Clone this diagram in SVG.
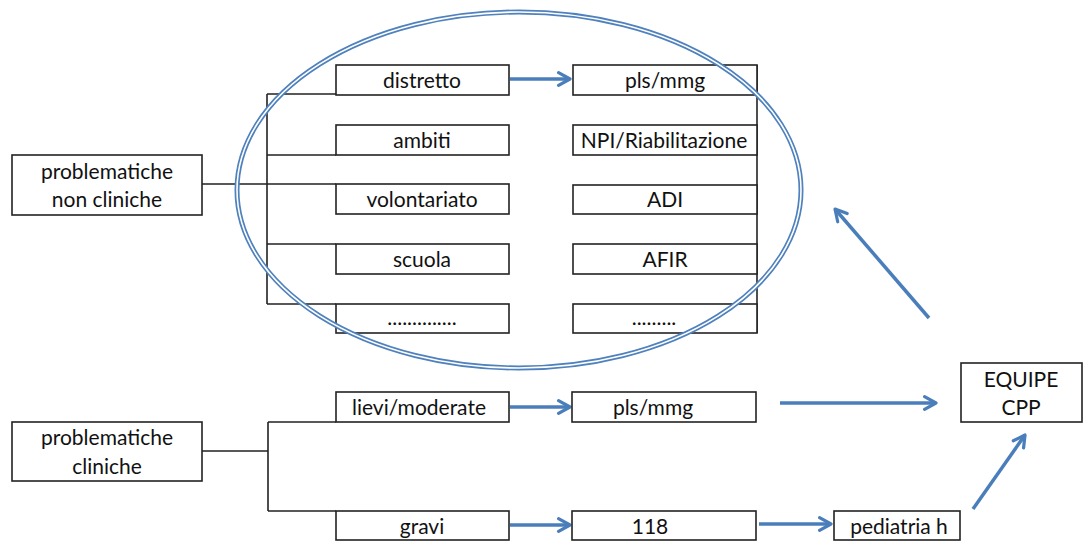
<svg xmlns="http://www.w3.org/2000/svg" width="1084" height="541" viewBox="0 0 1084 541">
<defs>
<style>
.box{fill:#fff;stroke:#222;stroke-width:1.6}
.t{font-family:Lato,"Open Sans","Liberation Sans",sans-serif;font-size:21px;fill:#111;text-anchor:middle}
.ln{stroke:#222;stroke-width:1.6;fill:none}
.ar{stroke:#4a7ebb;stroke-width:3.5;fill:none;marker-end:url(#ah)}
</style>
<marker id="ah" viewBox="0 0 14 14" refX="12" refY="7" markerWidth="16" markerHeight="16" markerUnits="userSpaceOnUse" orient="auto">
<path d="M2,1.5 L12,7 L2,12.5" fill="none" stroke="#4a7ebb" stroke-width="2.8" stroke-linecap="round" stroke-linejoin="round"/>
</marker>
</defs>
<rect width="1084" height="541" fill="#fff"/>

<g id="connectors">
<path class="ln" d="M202,184 H336 M267,94 V304 M267,94 H336 M267,155 H336 M267,244 H336 M267,304 H336"/>
<path class="ln" d="M757,65 V333"/>
<path class="ln" d="M202,451 H268 M268,422 V511 M268,422 H336 M268,511 H336"/>
<line class="ar" x1="510" y1="79" x2="570" y2="79"/>
<line class="ar" x1="510" y1="407" x2="570" y2="407"/>
<line class="ar" x1="510" y1="525" x2="570" y2="525"/>
<line class="ar" x1="780" y1="403" x2="936" y2="403"/>
<line class="ar" x1="759" y1="524" x2="831" y2="524"/>
<line class="ar" x1="973" y1="509" x2="1025" y2="435"/>
<line class="ar" x1="929" y1="318" x2="835" y2="209"/>
</g>

<g id="n-problematiche-non-cliniche"><rect class="box" x="12" y="155" width="190" height="60"/><text class="t" x="107" y="179">problematiche</text><text class="t" x="107" y="207">non cliniche</text></g>
<g id="n-problematiche-cliniche"><rect class="box" x="12" y="422" width="190" height="59"/><text class="t" x="107" y="445">problematiche</text><text class="t" x="107" y="474">cliniche</text></g>

<g id="n-distretto"><rect class="box" x="336" y="65" width="173" height="30"/><text class="t" x="422" y="88">distretto</text></g>
<g id="n-ambiti"><rect class="box" x="336" y="125" width="173" height="30"/><text class="t" x="422" y="148">ambiti</text></g>
<g id="n-volontariato"><rect class="box" x="336" y="184" width="173" height="30"/><text class="t" x="422" y="207">volontariato</text></g>
<g id="n-scuola"><rect class="box" x="336" y="244" width="173" height="30"/><text class="t" x="422" y="267">scuola</text></g>
<g id="n-dots-left"><rect class="box" x="336" y="304" width="173" height="29"/><text class="t" x="422" y="325">..............</text></g>

<g id="n-pls-mmg"><rect class="box" x="573" y="65" width="184" height="30"/><text class="t" x="665" y="88">pls/mmg</text></g>
<g id="n-npi"><rect class="box" x="573" y="125" width="184" height="30"/><text class="t" x="664" y="148">NPI/Riabilitazione</text></g>
<g id="n-adi"><rect class="box" x="573" y="185" width="184" height="29"/><text class="t" x="665" y="207">ADI</text></g>
<g id="n-afir"><rect class="box" x="573" y="244" width="184" height="30"/><text class="t" x="665" y="267">AFIR</text></g>
<g id="n-dots-right"><rect class="box" x="573" y="304" width="184" height="29"/><text class="t" x="654" y="325">.........</text></g>

<g id="n-ellipse">
<ellipse cx="519" cy="190" rx="282" ry="178" fill="none" stroke="#4f81bd" stroke-width="5"/>
<ellipse cx="519" cy="190" rx="282" ry="178" fill="none" stroke="#fff" stroke-width="1.6"/>
</g>

<g id="n-lievi"><rect class="box" x="336" y="392" width="173" height="30"/><text class="t" x="419" y="415">lievi/moderate</text></g>
<g id="n-gravi"><rect class="box" x="336" y="511" width="173" height="29"/><text class="t" x="422" y="534">gravi</text></g>
<g id="n-pls-mmg-2"><rect class="box" x="572" y="392" width="184" height="30"/><text class="t" x="653" y="415">pls/mmg</text></g>
<g id="n-118"><rect class="box" x="572" y="511" width="184" height="29"/><text class="t" x="650" y="534">118</text></g>
<g id="n-pediatria"><rect class="box" x="834" y="511" width="126" height="29"/><text class="t" x="899" y="534">pediatria h</text></g>
<g id="n-equipe"><rect class="box" x="961" y="363" width="121" height="59"/><text class="t" x="1021" y="387">EQUIPE</text><text class="t" x="1021" y="415">CPP</text></g>
</svg>
